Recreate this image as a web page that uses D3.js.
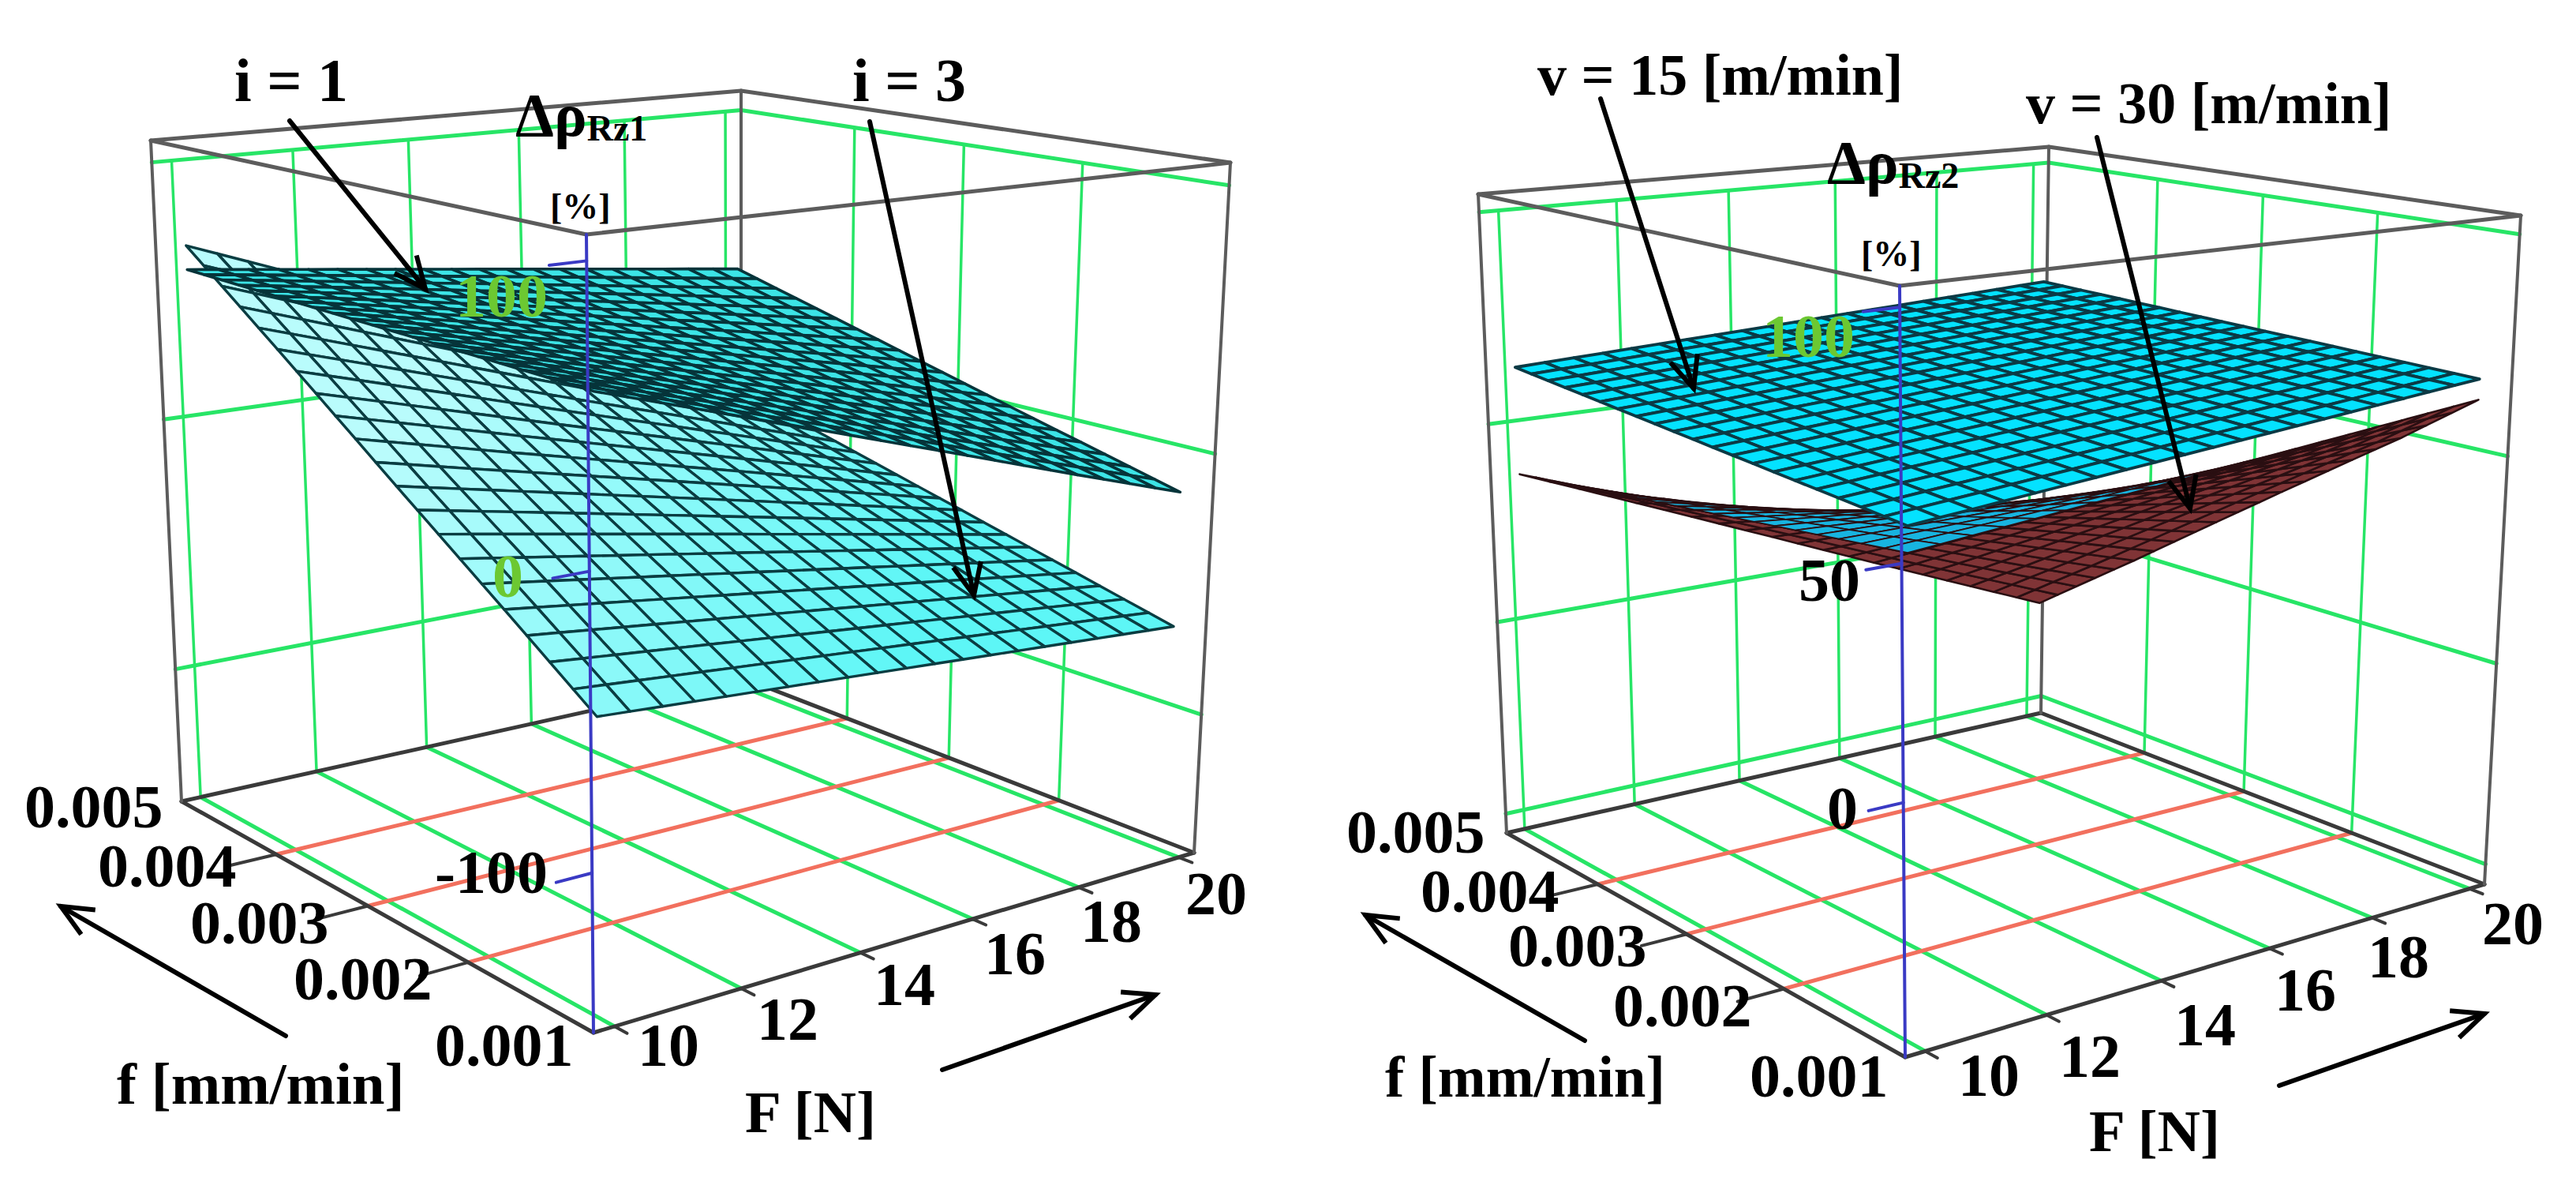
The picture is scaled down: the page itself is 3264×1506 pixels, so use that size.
<!DOCTYPE html>
<html>
<head>
<meta charset="utf-8">
<script src="https://cdn.jsdelivr.net/npm/d3@7"></script>
<style>
html, body { margin: 0; padding: 0; background: #fff; }
svg { display: block; }
text { font-family: "Liberation Serif", serif; font-weight: bold; fill: #000; }
</style>
</head>
<body>
<svg id="chart"></svg>
<script>
// tick values
const forceTicks = [10, 12, 14, 16, 18, 20];
const feedTicks = [0.001, 0.002, 0.003, 0.004, 0.005];
const zTicksLeft = [-100, 0, 100];
const zTicksRight = [-50, 0, 50, 100];

// surface heights at the patch corners only,
// rows f = 0.001, 0.005 / columns F = 10, 20
const leftI3 = [[-51.9, -66.7], [67.9, -20.1]];
const leftI1 = [[55.5, -15.1], [58.6, 32.4]];
const rightV15 = [[55.7, 67.2], [63.6, 69.4]];
const rightV30 = [[50.4, 62.5], [37.6, -20.7]];

// the wire mesh is a bilinear subdivision of those corners, not values read per node
const meshCells = 20;

const width = 3264, height = 1506;
const svg = d3.select('#chart').attr('width', width).attr('height', height);

const uScale = d3.scaleLinear().domain([10, 20]).range([0.03, 0.97]);
const vScale = d3.scaleLinear().domain([0.001, 0.005]).range([0.03, 0.97]);

// maps the unit square onto a screen quad (front, right, back, left corners)
function quadMap(q) {
	const [x0, y0] = q[0], [x1, y1] = q[1], [x2, y2] = q[2], [x3, y3] = q[3];
	const dx1 = x1 - x2, dx2 = x3 - x2, sx = x0 - x1 + x2 - x3;
	const dy1 = y1 - y2, dy2 = y3 - y2, sy = y0 - y1 + y2 - y3;
	const den = dx1 * dy2 - dx2 * dy1;
	const g = (sx * dy2 - dx2 * sy) / den, h = (dx1 * sy - sx * dy1) / den;
	const a = x1 - x0 + g * x1, b = x3 - x0 + h * x3;
	const d = y1 - y0 + g * y1, e = y3 - y0 + h * y3;
	return (u, v) => {
		const k = g * u + h * v + 1;
		return [(a * u + b * v + x0) / k, (d * u + e * v + y0) / k];
	};
}

const line = d3.line();

function drawPanel(p) {
	const g = svg.append('g');
	const floor = quadMap(p.floor), roof = quadMap(p.roof);
	const zScale = d3.scaleLinear().domain(p.zTicks).range(p.zRange);
	// box coordinates to screen
	const at = (u, v, w) => {
		const a = floor(u, v), b = roof(u, v);
		return [a[0] + (b[0] - a[0]) * w, a[1] + (b[1] - a[1]) * w];
	};
	const seg = (a, b, color, sw) => g.append('path')
		.attr('d', line([a, b]))
		.attr('fill', 'none')
		.attr('stroke', color)
		.attr('stroke-width', sw)
		.attr('stroke-linecap', 'round');

	const green = '#27e566', red = '#f2705e', grey = '#5c5c5c', dark = '#3a3a3a', blue = '#3a3ac4';
	const z100 = zScale(100);

	// back walls
	p.zTicks.forEach(z => {
		const w = zScale(z);
		seg(at(0, 1, w), at(1, 1, w), green, 5);
		seg(at(1, 1, w), at(1, 0, w), green, 5);
	});
	forceTicks.forEach(F => seg(at(uScale(F), 1, 0), at(uScale(F), 1, z100), green, 3.5));
	feedTicks.slice(1, 4).forEach(f => seg(at(1, vScale(f), 0), at(1, vScale(f), z100), green, 3.5));

	// floor grid
	forceTicks.forEach(F => {
		seg(at(uScale(F), 0, 0), at(uScale(F), 1, 0), green, 5);
		seg(at(uScale(F), 0, 0), at(uScale(F), -0.025, 0), dark, 4);
	});
	feedTicks.slice(1, 4).forEach(f => {
		seg(at(0, vScale(f), 0), at(1, vScale(f), 0), red, 5);
		seg(at(0, vScale(f), 0), at(-0.07, vScale(f), 0), dark, 4);
	});

	// box
	const corners = [[0, 0], [1, 0], [1, 1], [0, 1]];
	corners.forEach((c, i) => {
		const n = corners[(i + 1) % 4];
		seg(at(c[0], c[1], 0), at(n[0], n[1], 0), dark, 5);
		seg(at(c[0], c[1], 1), at(n[0], n[1], 1), grey, 5);
		if (i > 0) seg(at(c[0], c[1], 0), at(c[0], c[1], 1), grey, 4);
	});

	// surfaces
	p.surfaces.forEach(s => {
		const nodeAt = (i, j) => {
			const a = i / meshCells, b = j / meshCells;
			const z = s.z[0][0] * (1 - a) * (1 - b) + s.z[0][1] * a * (1 - b)
				+ s.z[1][0] * (1 - a) * b + s.z[1][1] * a * b;
			return at(uScale(10 + 10 * a), vScale(0.001 + 0.004 * b), zScale(z));
		};
		const cells = [];
		for (let i = 0; i < meshCells; i++) {
			for (let j = 0; j < meshCells; j++) cells.push([i, j]);
		}
		// far cells first
		cells.sort((a, b) => (b[0] + b[1]) - (a[0] + a[1]));
		cells.forEach(([i, j]) => {
			const q = [nodeAt(i, j), nodeAt(i + 1, j), nodeAt(i + 1, j + 1), nodeAt(i, j + 1)];
			const under = d3.polygonArea(q) < 0;
			const fill = under ? s.under : s.color((i - j + meshCells) / (2 * meshCells));
			g.append('path')
				.attr('d', line(q) + 'Z')
				.attr('fill', fill)
				.attr('stroke', s.mesh)
				.attr('stroke-width', under ? s.lineWidth : (s.topWidth || s.lineWidth))
				.attr('stroke-linejoin', 'round');
		});
	});

	// front z axis
	seg(at(0, 0, 0), at(0, 0, 1), blue, 4);
	p.zTicks.filter(z => p.zLabels.has(z)).forEach(z => {
		seg(at(0, 0, zScale(z)), at(-0.05, 0, zScale(z)), blue, 4);
	});

	// text
	const label = (t, x, y, size, anchor, fill) => g.append('text')
		.attr('x', x).attr('y', y)
		.attr('font-size', size)
		.attr('text-anchor', anchor || 'start')
		.style('fill', fill || '#000')
		.text(t);

	forceTicks.forEach((F, i) => label(F, p.forcePos[i][0], p.forcePos[i][1], 78));
	feedTicks.forEach((f, i) => label(f.toFixed(3), p.feedPos[i][0], p.feedPos[i][1], 78));
	p.zLabelPos.forEach(d => label(d.text, d.x, d.y, 78, 'start', d.fill));
	p.texts.forEach(d => label(d.text, d.x, d.y, d.size));

	const title = g.append('text').attr('x', p.title.x).attr('y', p.title.y).attr('font-size', 78);
	title.append('tspan').text('Δρ');
	title.append('tspan').attr('dy', 6).attr('font-size', 46).text(p.title.sub);
	label('[%]', p.unit[0], p.unit[1], 46);

	// arrows
	p.arrows.forEach(([a, b]) => {
		const ang = Math.atan2(b[1] - a[1], b[0] - a[0]);
		const head = s => [b[0] - 44 * Math.cos(ang + s), b[1] - 44 * Math.sin(ang + s)];
		seg(a, b, '#000', 6);
		g.append('path')
			.attr('d', line([head(0.42), b, head(-0.42)]))
			.attr('fill', 'none')
			.attr('stroke', '#000')
			.attr('stroke-width', 6);
	});
}

const cyanLight = d3.scaleLinear().domain([0.25, 0.75]).range(['#b9fcfc', '#5df6f6']).clamp(true);
const cyanDark = d3.scaleLinear().domain([0, 1]).range(['#3ce4e6', '#3ce4e6']);
const cyanBright = d3.scaleLinear().domain([0, 1]).range(['#04e2ff', '#04e2ff']);
const cyanLow = d3.scaleLinear().domain([0, 1]).range(['#18b4e0', '#18b4e0']);

drawPanel({
	floor: [[752, 1308], [1513, 1080], [939, 858], [230, 1015]],
	roof: [[743, 297], [1559, 206], [939, 115], [191, 178]],
	zTicks: zTicksLeft,
	zRange: [0.2, 0.578, 0.967],
	zLabels: new Set([-100, 0, 100]),
	surfaces: [
		{ z: leftI3, color: cyanLight, under: '#7d3535', mesh: '#0a3d42', lineWidth: 3.4 },
		{ z: leftI1, color: cyanDark, under: '#3ce4e6', mesh: '#06343a', lineWidth: 3.6 }
	],
	forcePos: [[808, 1350], [959, 1317], [1107, 1273], [1247, 1234], [1369, 1193], [1502, 1158]],
	feedPos: [[551, 1350], [372, 1266], [241, 1195], [124, 1123], [31, 1048]],
	zLabelPos: [
		{ text: '100', x: 577, y: 401, fill: '#6cc832' },
		{ text: '0', x: 624, y: 756, fill: '#6cc832' },
		{ text: '-100', x: 551, y: 1131 }
	],
	title: { x: 653, y: 172, sub: 'Rz1' },
	unit: [697, 277],
	texts: [
		{ text: 'i = 1', x: 297, y: 128, size: 78 },
		{ text: 'i = 3', x: 1080, y: 128, size: 78 },
		{ text: 'f [mm/min]', x: 148, y: 1398, size: 75 },
		{ text: 'F [N]', x: 944, y: 1434, size: 75 }
	],
	arrows: [
		[[367, 153], [539, 366]],
		[[1102, 154], [1234, 754]],
		[[362, 1312], [77, 1148]],
		[[1194, 1355], [1464, 1260]]
	]
});

drawPanel({
	floor: [[2414, 1339], [3148, 1120], [2586, 903], [1909, 1055]],
	roof: [[2407, 362], [3194, 273], [2596, 186], [1873, 246]],
	zTicks: zTicksRight,
	zRange: [0.03, 0.33, 0.64, 0.972],
	zLabels: new Set([0, 50, 100]),
	surfaces: [
		{ z: rightV30, color: cyanLow, under: '#803436', mesh: '#2a0f12', lineWidth: 2.6, topWidth: 1.8 },
		{ z: rightV15, color: cyanBright, under: '#04e2ff', mesh: '#0b3a45', lineWidth: 3.8 }
	],
	forcePos: [[2481, 1388], [2609, 1364], [2755, 1324], [2882, 1280], [3000, 1238], [3145, 1196]],
	feedPos: [[2217, 1389], [2044, 1300], [1911, 1224], [1800, 1155], [1706, 1080]],
	zLabelPos: [
		{ text: '100', x: 2233, y: 452, fill: '#6cc832' },
		{ text: '50', x: 2279, y: 761 },
		{ text: '0', x: 2315, y: 1050 }
	],
	title: { x: 2315, y: 232, sub: 'Rz2' },
	unit: [2358, 337],
	texts: [
		{ text: 'v = 15 [m/min]', x: 1948, y: 120, size: 74 },
		{ text: 'v = 30 [m/min]', x: 2567, y: 156, size: 74 },
		{ text: 'f [mm/min]', x: 1755, y: 1389, size: 73 },
		{ text: 'F [N]', x: 2647, y: 1458, size: 75 }
	],
	arrows: [
		[[2028, 125], [2146, 492]],
		[[2657, 174], [2775, 644]],
		[[2008, 1318], [1730, 1159]],
		[[2888, 1375], [3148, 1284]]
	]
});
</script>
</body>
</html>
